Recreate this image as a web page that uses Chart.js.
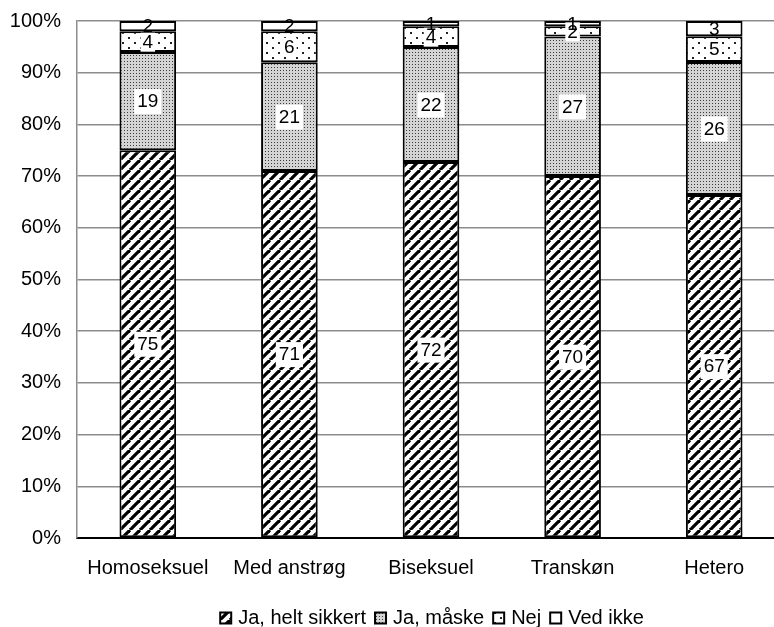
<!DOCTYPE html>
<html>
<head>
<meta charset="utf-8">
<script src="https://cdn.jsdelivr.net/npm/chart.js@4.4.0/dist/chart.umd.min.js"></script>
<style>
  html, body { margin: 0; padding: 0; background: #fff; overflow: hidden; }
  #wrap { width: 785px; height: 627px; }
</style>
</head>
<body>
<div id="wrap"><canvas id="myChart" width="785" height="627"></canvas></div>
<script>
const categories = ['Homoseksuel', 'Med anstrøg', 'Biseksuel', 'Transkøn', 'Hetero'];
const seriesNames = ['Ja, helt sikkert', 'Ja, måske', 'Nej', 'Ved ikke'];
const jaHeltSikkert = [75, 71, 72, 70, 67];
const jaMaaske = [19, 21, 22, 27, 26];
const nej = [4, 6, 4, 2, 5];
const vedIkke = [2, 2, 1, 1, 3];
const yTicks = [0, 10, 20, 30, 40, 50, 60, 70, 80, 90, 100];

const rawSeries = [jaHeltSikkert, jaMaaske, nej, vedIkke];
// 100% stacked: share of each category total
const totals = categories.map((_, i) => rawSeries.reduce((s, arr) => s + arr[i], 0));
const toPct = arr => arr.map((v, i) => v / totals[i] * 100);

const FONT = '"Liberation Sans", Arial, sans-serif';

function makePattern(w, h, draw) {
  const c = document.createElement('canvas');
  c.width = w; c.height = h;
  const g = c.getContext('2d');
  draw(g, w, h);
  return document.getElementById('myChart').getContext('2d').createPattern(c, 'repeat');
}

const hatch = makePattern(10, 10, (g, w, h) => {
  g.fillStyle = '#fff'; g.fillRect(0, 0, w, h);
  g.strokeStyle = '#000'; g.lineWidth = 3.2;
  for (let k = -1; k <= 1; k++) {
    g.beginPath();
    g.moveTo(k * w, h);
    g.lineTo(k * w + w, 0);
    g.stroke();
  }
});
const denseDots = makePattern(3, 3, (g) => {
  g.fillStyle = '#d4d4d4'; g.fillRect(0, 0, 3, 3);
  g.fillStyle = '#3a3a3a'; g.fillRect(1, 1, 1, 1);
});
const sparseDots = makePattern(12, 10, (g) => {
  g.fillStyle = '#fff'; g.fillRect(0, 0, 12, 10);
  g.fillStyle = '#222';
  g.fillRect(2, 2, 2, 2);
  g.fillRect(8, 7, 2, 2);
});
const fills = [hatch, denseDots, sparseDots, '#fff'];

const valueLabels = {
  id: 'valueLabels',
  afterDatasetsDraw(chart) {
    const ctx = chart.ctx;
    ctx.save();
    ctx.font = '19px ' + FONT;
    ctx.textAlign = 'center';
    ctx.textBaseline = 'middle';
    chart.data.datasets.forEach((ds, di) => {
      const meta = chart.getDatasetMeta(di);
      meta.data.forEach((bar, i) => {
        const txt = String(rawSeries[di][i]);
        const cy = (bar.y + bar.base) / 2;
        const tw = ctx.measureText(txt).width;
        if (di < 2) {
          ctx.fillStyle = '#fff';
          ctx.fillRect(bar.x - tw / 2 - 3, cy - 12, tw + 6, 25);
        } else if (di === 2) {
          ctx.fillStyle = '#fff';
          ctx.fillRect(bar.x - tw / 2 - 2, cy - 9, tw + 4, 19);
        }
        ctx.fillStyle = '#000';
        ctx.fillText(txt, bar.x, cy + 1);
      });
    });
    ctx.restore();
  }
};

// legend drawn by hand so box/text gaps match the original
const bottomLegend = {
  id: 'bottomLegend',
  afterDraw(chart) {
    const ctx = chart.ctx;
    ctx.save();
    ctx.font = '20px ' + FONT;
    ctx.textBaseline = 'middle';
    const box = 11, gap = 7, sep = 9;
    const widths = seriesNames.map(n => box + gap + ctx.measureText(n).width);
    const total = widths.reduce((a, b) => a + b, 0) + sep * (widths.length - 1);
    let x = 432 - total / 2;
    const y = 618;
    chart.data.datasets.forEach((ds, k) => {
      ctx.fillStyle = ds.backgroundColor;
      ctx.fillRect(x, y - box / 2, box, box);
      ctx.strokeStyle = '#000';
      ctx.lineWidth = 2;
      ctx.strokeRect(x, y - box / 2, box, box);
      ctx.fillStyle = '#000';
      ctx.fillText(seriesNames[k], x + box + gap, y);
      x += widths[k] + sep;
    });
    ctx.restore();
  }
};

const ctxt = document.getElementById('myChart').getContext('2d');
const myChart = new Chart(ctxt, {
  type: 'bar',
  data: {
    labels: categories,
    datasets: rawSeries.map((arr, k) => ({
      label: seriesNames[k],
      data: toPct(arr),
      backgroundColor: fills[k],
      borderColor: '#000',
      borderWidth: 2,
      borderSkipped: false,
      barPercentage: 0.4,
      categoryPercentage: 1
    }))
  },
  options: {
    responsive: false,
    animation: false,
    devicePixelRatio: 1,
    layout: { padding: { top: 21, left: 0, right: 0, bottom: 29 } },
    plugins: {
      tooltip: { enabled: false },
      legend: { display: false }
    },
    scales: {
      x: {
        stacked: true,
        grid: { display: false, drawTicks: false },
        border: { color: '#000', width: 2 },
        ticks: { color: '#000', padding: 18, font: { family: FONT, size: 20 } }
      },
      y: {
        stacked: true,
        min: 0, max: 100,
        afterBuildTicks: ax => { ax.ticks = yTicks.map(v => ({ value: v })); },
        afterFit: ax => { ax.width = 77; ax.paddingTop = 0; ax.paddingBottom = 0; },
        grid: { color: '#8c8c8c', lineWidth: 1.5, drawTicks: false },
        border: { color: '#8c8c8c', width: 1.5 },
        ticks: {
          color: '#000', padding: 16,
          font: { family: FONT, size: 20 },
          callback: v => v + '%'
        }
      }
    }
  },
  plugins: [valueLabels, bottomLegend]
});
</script>
</body>
</html>
